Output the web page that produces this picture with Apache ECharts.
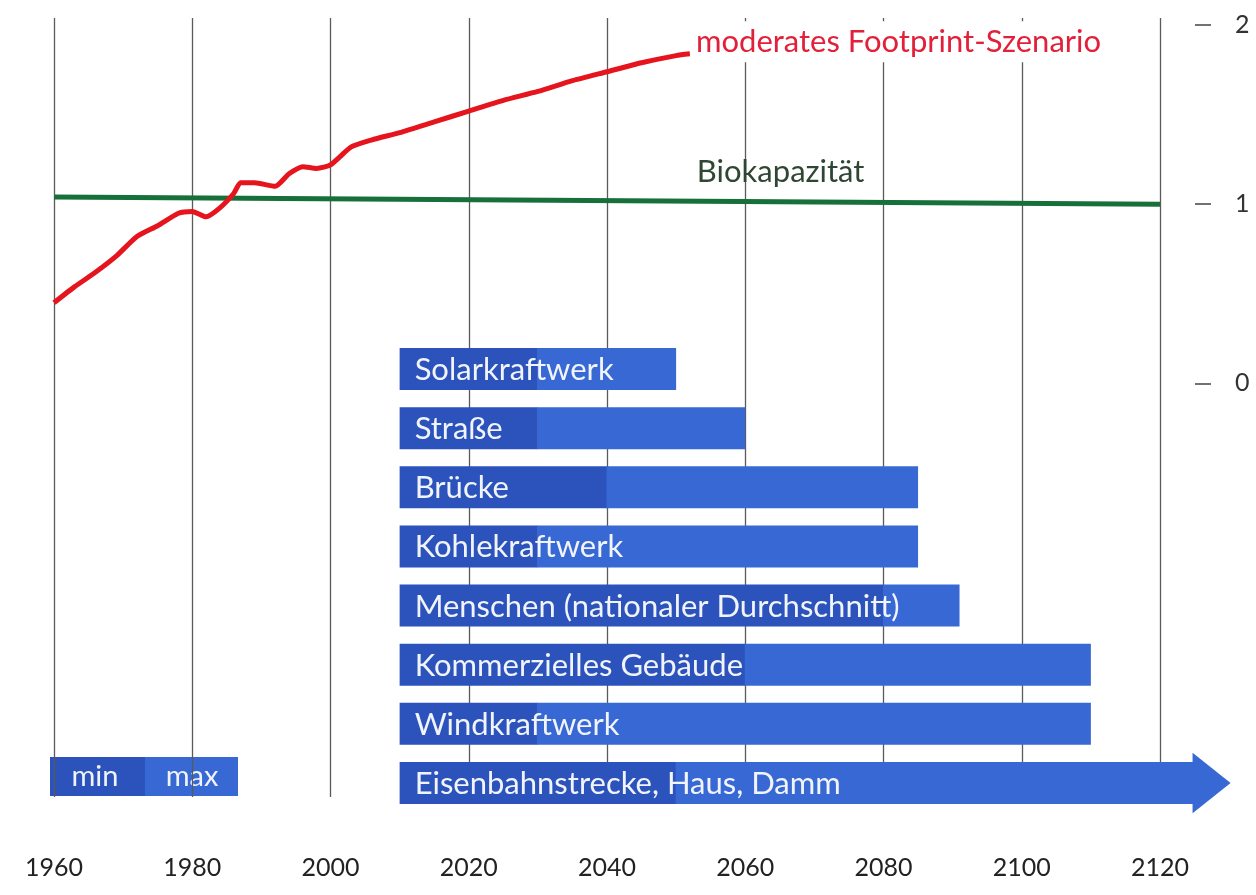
<!DOCTYPE html>
<html><head><meta charset="utf-8">
<script src="https://cdn.jsdelivr.net/npm/echarts@6/dist/echarts.min.js"></script>
<style>html,body{margin:0;padding:0;background:#fff}#c{width:1256px;height:895px}</style>
</head><body><div id="c"></div>
<script>
// ---- data ----
const footprintYears = [1960,1963,1966,1969,1972,1975,1978,1980,1982,1984,1986,1987,1989,1992,1994,1996,1998,2000,2003,2006,2010,2015,2020,2025,2030,2035,2040,2045,2050,2052];
const footprintValues = [0.45,0.54,0.62,0.71,0.82,0.88,0.95,0.96,0.93,0.98,1.06,1.12,1.12,1.10,1.17,1.21,1.20,1.22,1.32,1.36,1.40,1.46,1.52,1.58,1.63,1.69,1.74,1.79,1.83,1.84];
const bioYears = [1960, 2120];
const bioValues = [1.04, 1.00];
const xTickYears = [1960,1980,2000,2020,2040,2060,2080,2100,2120];
const yTickValues = [0,1,2];
const objects = ['Solarkraftwerk','Straße','Brücke','Kohlekraftwerk','Menschen (nationaler Durchschnitt)','Kommerzielles Gebäude','Windkraftwerk','Eisenbahnstrecke, Haus, Damm'];
const lifeStart = [2010,2010,2010,2010,2010,2010,2010,2010];
const lifeMin   = [2030,2030,2040,2030,2080,2060,2030,2050];
const lifeMax   = [2050,2060,2085,2085,2091,2110,2110,2125];
const openEnded = [0,0,0,0,0,0,0,1];
const labelFootprint = 'moderates Footprint-Szenario';
const labelBio = 'Biokapazität';
const legendMin = 'min', legendMax = 'max';

// ---- styles ----
const DARK = '#2b53bb', LIGHT = '#3768d4';
const FONT = 'Lato, "Noto Sans", sans-serif';

const chart = echarts.init(document.getElementById('c'), null, {renderer:'canvas'});
const barData = objects.map((n,i)=>[i, lifeStart[i], lifeMin[i], lifeMax[i], openEnded[i]]);

chart.setOption({
  backgroundColor:'#fff',
  animation:false,
  grid:[
    {left:54, right:96, top:18, bottom:98},
    {left:54, right:96, top:339.5, bottom:82.5}
  ],
  xAxis:[
    {type:'value', gridIndex:0, min:1960, max:2120, interval:20,
     axisLine:{show:false}, axisTick:{show:false},
     axisLabel:{color:'#222', fontSize:25, fontFamily:FONT, margin:58,
       customValues:xTickYears, formatter:function(v){return String(v);}},
     splitLine:{show:true, lineStyle:{color:'#5a5a5a', width:1.3}}},
    {type:'value', gridIndex:1, min:1960, max:2120, show:false}
  ],
  yAxis:[
    {type:'value', gridIndex:0, position:'right', offset:35, min:-2.31, max:2.04,
     axisLine:{show:false},
     axisTick:{show:true, length:16, customValues:yTickValues, lineStyle:{color:'#444', width:1.5}},
     axisLabel:{show:true, customValues:yTickValues, color:'#333', fontSize:25, fontFamily:FONT, margin:40, align:'left'},
     splitLine:{show:false}},
    {type:'category', gridIndex:1, data:objects, inverse:true, show:false}
  ],
  series:[
    {type:'line', xAxisIndex:0, yAxisIndex:0, data:bioYears.map((y,i)=>[y,bioValues[i]]),
     showSymbol:false, symbol:'none', lineStyle:{color:'#17703a', width:5}, z:3,
     markPoint:{symbol:'circle', symbolSize:0, silent:true,
       data:[{coord:[2053, 1.18], label:{show:true, formatter:labelBio, position:'right', distance:0,
         color:'#2f4632', fontSize:31, fontFamily:FONT}}]}},
    {type:'line', xAxisIndex:0, yAxisIndex:0, data:footprintYears.map((y,i)=>[y,footprintValues[i]]),
     showSymbol:false, symbol:'none', smooth:0.2, lineStyle:{color:'#e5141d', width:5}, z:4,
     endLabel:{show:true, formatter:labelFootprint, color:'#e2203a', fontSize:31, fontFamily:FONT,
       offset:[-4,-12], distance:4, backgroundColor:'#fff', padding:[5,6,5,6]}},
    {type:'custom', xAxisIndex:1, yAxisIndex:1, data:barData, clip:false, z:5,
     encode:{x:[1,2,3], y:0},
     renderItem:function(params, api){
       const row = api.value(0);
       const s = api.coord([api.value(1), row]);
       const m = api.coord([api.value(2), row]);
       const e = api.coord([api.value(3), row]);
       const h = api.size([0,1])[1]*0.71;
       const y0 = s[1]-h/2;
       const ch = [
         {type:'rect', shape:{x:s[0], y:y0, width:m[0]-s[0], height:h}, style:{fill:DARK}},
         {type:'rect', shape:{x:m[0]-0.5, y:y0, width:e[0]-m[0]+0.5, height:h}, style:{fill:LIGHT}}
       ];
       if (api.value(4)) {
         ch.push({type:'polygon', shape:{points:[[e[0]-2, s[1]-h*0.72],[e[0]+36, s[1]],[e[0]-2, s[1]+h*0.72]]}, style:{fill:LIGHT}});
       }
       ch.push({type:'text', style:{text:objects[row], x:s[0]+15, y:s[1]+1, verticalAlign:'middle', align:'left',
         fill:'#f1f4fb', fontSize:31, fontFamily:FONT}});
       return {type:'group', children:ch};
     }}
  ],
  graphic:[
    {type:'group', left:50, top:757, z:10, children:[
      {type:'rect', shape:{x:0, y:0, width:95, height:39}, style:{fill:DARK}},
      {type:'rect', shape:{x:95, y:0, width:93, height:39}, style:{fill:LIGHT}},
      {type:'text', style:{text:legendMin, x:45, y:20, align:'center', verticalAlign:'middle', fill:'#f1f4fb', fontSize:29, fontFamily:FONT}},
      {type:'text', style:{text:legendMax, x:142, y:20, align:'center', verticalAlign:'middle', fill:'#f1f4fb', fontSize:29, fontFamily:FONT}}
    ]}
  ]
});
</script></body></html>
